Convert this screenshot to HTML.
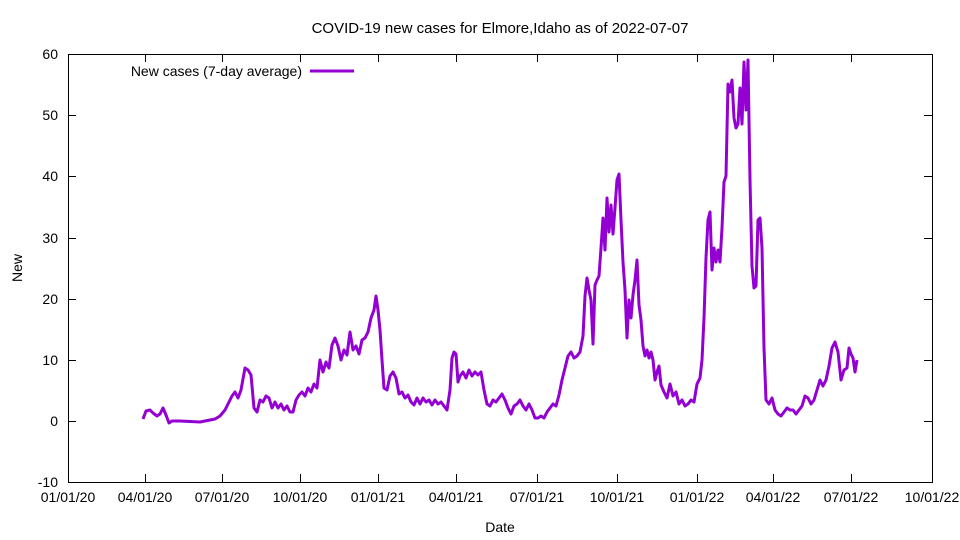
<!DOCTYPE html>
<html><head><meta charset="utf-8"><style>
html,body{margin:0;padding:0;background:#fff;}
svg{display:block;font-family:"Liberation Sans",sans-serif;}
</style></head><body>
<svg width="960" height="540" viewBox="0 0 960 540" xmlns="http://www.w3.org/2000/svg">
<rect width="960" height="540" fill="#fff"/>
<text x="500" y="33" font-size="15" text-anchor="middle">COVID-19 new cases for Elmore,Idaho as of 2022-07-07</text>
<g stroke="#000" stroke-width="1" fill="none">
<rect x="68.5" y="54.5" width="864" height="428"/>
</g>
<g stroke="#000" stroke-width="1">
<path d="M68 482.5h8M932 482.5h-8M68 421.5h8M932 421.5h-8M68 360.5h8M932 360.5h-8M68 299.5h8M932 299.5h-8M68 238.5h8M932 238.5h-8M68 176.5h8M932 176.5h-8M68 115.5h8M932 115.5h-8M68 54.5h8M932 54.5h-8"/>
<path d="M68.5 482v-8M145.5 482v-8M222.5 482v-8M300.5 482v-8M378.5 482v-8M456.5 482v-8M537.5 482v-8M617.5 482v-8M697.5 482v-8M773.5 482v-8M851.5 482v-8M932.5 482v-8M145.5 54v8M222.5 54v8M300.5 54v8M378.5 54v8M456.5 54v8M537.5 54v8M617.5 54v8M697.5 54v8M773.5 54v8M851.5 54v8"/>
</g>
<g font-size="14" text-anchor="end">
<text x="58" y="487">-10</text><text x="58" y="426">0</text><text x="58" y="365">10</text><text x="58" y="304">20</text><text x="58" y="243">30</text><text x="58" y="181">40</text><text x="58" y="120">50</text><text x="58" y="59">60</text>
</g>
<g font-size="14" text-anchor="middle">
<text x="68" y="502">01/01/20</text><text x="145" y="502">04/01/20</text><text x="222" y="502">07/01/20</text><text x="300" y="502">10/01/20</text><text x="378" y="502">01/01/21</text><text x="456" y="502">04/01/21</text><text x="537" y="502">07/01/21</text><text x="617" y="502">10/01/21</text><text x="697" y="502">01/01/22</text><text x="773" y="502">04/01/22</text><text x="851" y="502">07/01/22</text><text x="932" y="502">10/01/22</text>
<text x="500" y="532">Date</text>
<text x="22" y="268" transform="rotate(-90 22 268)">New</text>
</g>
<text x="302" y="76" font-size="14" text-anchor="end">New cases (7-day average)</text>
<path d="M310 71h44" stroke="#9400d3" stroke-width="3"/>
<polyline fill="none" stroke="#9400d3" stroke-width="3" stroke-linejoin="round" points="143,419 146,411 150,410 153,413 157,416 160,414 163,408 166,415 169,423 172,421 180,421 200,422 210,420 215,419 220,416 225,410 228,404 232,396 235,392 238,398 241,390 245,368 248,370 251,375 254,408 257,412 260,400 263,402 266,396 269,398 272,408 275,402 278,408 281,404 284,410 287,406 290,412 293,412 296,400 299,395 302,392 305,396 308,388 311,392 314,384 317,388 320,360 323,372 326,362 329,368 332,345 335,338 338,346 341,360 344,350 347,355 350,332 353,350 356,346 359,354 362,340 365,338 368,332 371,318 374,310 376,296 378,310 380,330 382,360 384,388 387,390 390,376 393,372 396,378 399,394 402,392 405,398 408,395 411,402 414,405 417,398 420,404 423,398 426,402 429,400 432,405 435,400 438,404 441,402 444,406 447,410 450,390 452,358 454,352 456,354 458,382 460,376 463,372 466,378 469,370 472,376 475,372 478,375 481,372 484,390 487,404 490,406 493,400 496,402 499,398 502,394 505,400 508,408 511,414 514,406 517,404 520,400 523,406 526,410 529,404 532,410 535,418 538,418 541,416 544,418 547,412 550,408 553,404 556,406 559,395 562,380 565,368 568,356 571,352 574,358 577,356 580,352 583,336 585,296 587,278 589,290 591,300 593,344 595,285 597,280 599,276 601,248 603,218 605,250 607,198 609,232 611,205 613,234 615,208 617,180 619,174 621,220 623,262 625,290 627,338 629,300 631,318 633,295 635,280 637,260 639,305 641,320 643,346 645,356 647,350 649,358 651,352 653,360 655,380 657,372 659,366 661,385 664,392 667,398 670,384 673,396 676,392 679,404 682,400 685,406 688,404 691,400 694,402 697,384 700,378 702,360 704,318 706,258 708,220 710,212 712,270 714,248 716,262 718,250 720,262 722,228 724,182 726,176 728,84 730,92 732,80 734,118 736,128 738,124 740,88 742,124 744,62 746,110 748,60 750,180 752,266 754,288 756,286 758,220 760,218 762,248 764,348 766,400 769,404 772,398 775,410 778,414 781,416 784,412 787,408 790,410 793,410 796,414 799,410 802,406 805,396 808,398 811,404 814,400 817,390 820,380 823,386 826,380 829,366 832,348 835,342 838,352 841,380 844,370 847,368 849,348 851,354 853,358 855,372 857,360"/>
</svg>
</body></html>
